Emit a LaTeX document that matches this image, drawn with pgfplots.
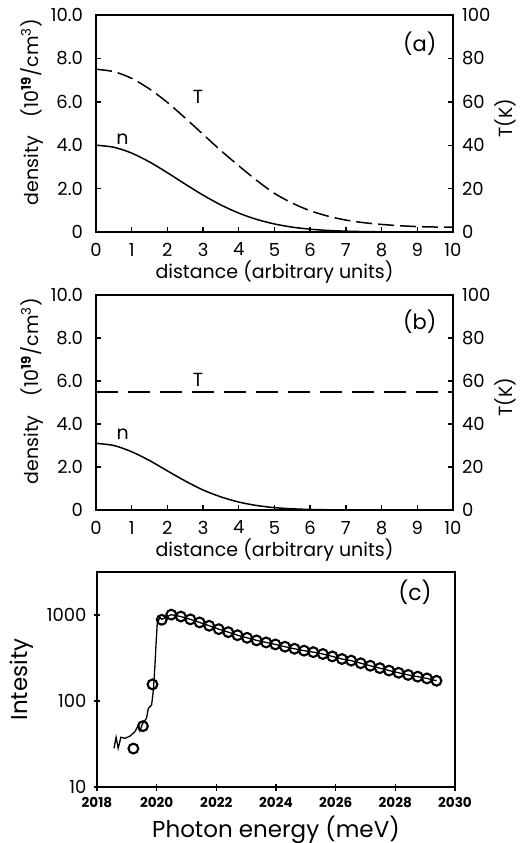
\documentclass[border=0pt]{standalone}
\usepackage{pgfplots}
\pgfplotsset{compat=1.18}
\usepackage{fontspec}
\setmainfont{Poppins}

\pgfplotsset{
  dist/.style={
    scale only axis, width=178.5pt, height=108.5pt,
    xmin=0, xmax=10, ymin=0, ymax=10,
    axis line style={line width=0.8pt},
    tick style={line width=0.7pt, black}, major tick length=2.5pt,
    tick align=inside,
    xtick={0,...,10}, xtick pos=bottom,
    ytick={0,2,...,10}, yticklabels={0,2.0,4.0,6.0,8.0,10.0}, ytick pos=left,
    tick label style={font=\fontsize{9}{10}\selectfont},
    xticklabel shift=2pt, yticklabel shift=3pt,
    label style={font=\fontsize{9.5}{11}\selectfont},
    xlabel={distance (arbitrary units)},
    ylabel={density\quad(10\textsuperscript{\bfseries 19}/cm\textsuperscript{3})},
    xlabel style={yshift=5pt},
    ylabel style={at={(axis description cs:-0.179,0.553)}, anchor=center},
    /pgf/number format/assume math mode=true,
  },
  temp/.style={
    scale only axis, width=178.5pt, height=108.5pt,
    xmin=0, xmax=10, ymin=0, ymax=100,
    axis x line=none, axis y line*=right,
    axis line style={line width=0.8pt},
    tick style={line width=0.7pt, black}, major tick length=2.5pt,
    tick align=inside,
    ytick={0,20,...,100},
    tick label style={font=\fontsize{9}{10}\selectfont},
    yticklabel shift=1pt,
    ylabel={T(K)}, label style={font=\fontsize{9.5}{11}\selectfont},
    ylabel style={at={(axis description cs:1.146,0.525)}, anchor=center, rotate=0},
    /pgf/number format/assume math mode=true,
  },
}

\begin{document}
\begin{tikzpicture}
% ---------------- (a)
\begin{axis}[dist, at={(48pt,-116pt)}, anchor=south west]
\addplot[black, line width=0.75pt, smooth] coordinates {
(0,4.000) (0.5,3.906) (1,3.637) (1.5,3.228) (2,2.733) (2.5,2.206) (3,1.698)
(3.5,1.246) (4,0.871) (4.5,0.581) (5,0.370) (5.5,0.224) (6,0.130) (6.5,0.072)
(7,0.038) (7.5,0.019) (8,0.009) (8.5,0.004) (9,0.002) (9.5,0.001) (10,0.000)};
\node[font=\fontsize{9.5}{11}\selectfont] at (axis cs:0.74,4.28) {n};
\node[font=\fontsize{9.5}{11}\selectfont] at (axis cs:2.86,6.24) {T};
\node[font=\fontsize{10.5}{12}\selectfont] at (axis cs:9.07,8.7) {(a)};
\end{axis}
\begin{axis}[temp, at={(48pt,-116pt)}, anchor=south west]
\addplot[black, line width=0.75pt, smooth, dash pattern=on 8pt off 3pt] coordinates {
(0,75.0) (0.5,73.9) (1,70.8) (1.5,65.9) (2,59.7) (2.5,52.5) (3,45.0) (3.5,37.5)
(4,30.5) (4.5,23.8) (5,17.8) (5.5,13.3) (6,9.8) (6.5,7.3) (7,5.5) (7.5,4.3)
(8,3.5) (8.5,2.9) (9,2.5) (9.5,2.3) (10,2.2)};
\end{axis}
% ---------------- (b)
\begin{axis}[dist, at={(48pt,-255pt)}, anchor=south west, height=107.5pt]
\addplot[black, line width=0.75pt, smooth] coordinates {
(0,3.10) (0.5,3.00) (1,2.71) (1.5,2.30) (2,1.82) (2.5,1.35) (3,0.93) (3.5,0.61)
(4,0.37) (4.5,0.21) (5,0.11) (5.5,0.055) (6,0.025) (6.5,0.011) (7,0.004)
(7.5,0.001) (8,0) (9,0) (10,0)};
\node[font=\fontsize{9.5}{11}\selectfont] at (axis cs:0.75,3.52) {n};
\node[font=\fontsize{9.5}{11}\selectfont] at (axis cs:2.86,6.05) {T};
\node[font=\fontsize{10.5}{12}\selectfont] at (axis cs:9.07,8.75) {(b)};
\end{axis}
\begin{axis}[temp, at={(48pt,-255pt)}, anchor=south west, height=107.5pt]
\addplot[black, line width=0.75pt, dash pattern=on 11pt off 5pt] coordinates {
(0,55) (10,55)};
\end{axis}
% ---------------- (c)
\begin{axis}[at={(48.5pt,-393.5pt)}, anchor=south west,
  scale only axis, width=179pt, height=107.5pt,
  xmin=2018, xmax=2030, ymode=log, ymin=10, ymax=3162,
  axis line style={line width=0.8pt},
  tick style={line width=0.7pt, black}, major tick length=3.5pt,
  tick align=center, xtick pos=bottom, ytick pos=left,
  minor tick num=0, log basis y=10,
  xtick={2018,2020,...,2030},
  xticklabels={2018,2020,2022,2024,2026,2028,2030},
  xticklabel style={font=\fontsize{6.8}{7}\selectfont\bfseries},
  ytick={10,100,1000}, yticklabels={10,100,1000},
  yticklabel style={font=\fontsize{9}{10}\selectfont},
  xlabel={Photon energy (meV)}, ylabel={Intesity},
  label style={font=\fontsize{11.5}{13}\selectfont},
  xlabel style={yshift=3pt},
  /pgf/number format/assume math mode=true,
]
\addplot[black, line width=0.65pt] coordinates {
(2018.57,28.2) (2018.64,37.9) (2018.71,28.2) (2018.80,37.9) (2018.94,36.8)
(2019.11,39.2) (2019.27,44) (2019.39,52.6) (2019.44,45) (2019.52,54)
(2019.66,63) (2019.72,82) (2019.83,90) (2019.89,134) (2019.94,251)
(2019.98,468) (2020.02,795) (2020.11,940) (2020.17,890) (2020.49,1010)
(2020.81,960) (2021.13,890) (2021.44,820) (2021.76,750) (2022.08,685)
(2022.40,632) (2022.71,582) (2023.03,543) (2023.35,507) (2023.67,480)
(2023.98,455) (2024.30,428) (2024.62,405) (2024.94,385) (2025.25,370)
(2025.57,352) (2025.89,330) (2026.21,308) (2026.52,295) (2026.84,275)
(2027.16,257) (2027.48,241) (2027.79,226) (2028.11,213) (2028.43,201)
(2028.75,192) (2029.06,183) (2029.38,172)};
\addplot[only marks, mark=o, mark size=2.45pt, black, line width=1.05pt] coordinates {
(2019.22,28) (2019.54,51) (2019.86,156) (2020.17,880) (2020.49,1010)
(2020.81,960) (2021.13,890) (2021.44,820) (2021.76,750) (2022.08,685)
(2022.40,632) (2022.71,582) (2023.03,543) (2023.35,507) (2023.67,480)
(2023.98,455) (2024.30,428) (2024.62,405) (2024.94,385) (2025.25,370)
(2025.57,352) (2025.89,330) (2026.21,308) (2026.52,295) (2026.84,275)
(2027.16,257) (2027.48,241) (2027.79,226) (2028.11,213) (2028.43,201)
(2028.75,192) (2029.06,183) (2029.38,172)};
\node[font=\fontsize{11}{12}\selectfont] at (axis cs:2028.66,1820) {(c)};
\end{axis}
\pgfresetboundingbox
\path[use as bounding box] (0,0) rectangle (260pt,-421.5pt);
\end{tikzpicture}
\end{document}
